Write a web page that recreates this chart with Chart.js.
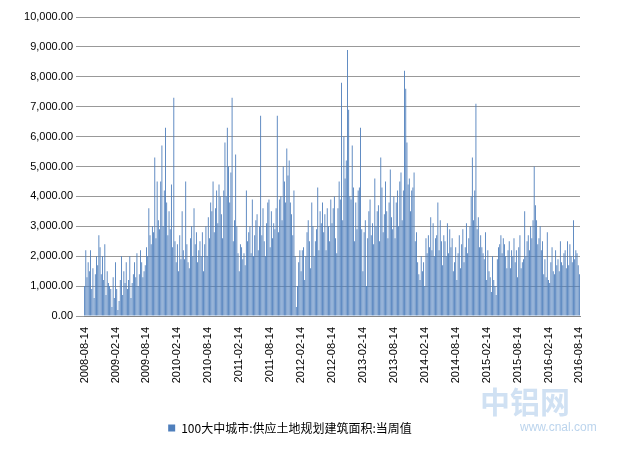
<!DOCTYPE html>
<html><head><meta charset="utf-8">
<script src="https://cdn.jsdelivr.net/npm/chart.js@4"></script>
<style>body{margin:0;background:#fff}#w{position:relative;width:619px;height:456px}
#wm{position:absolute;left:480px;top:378px;font:bold 30px "Noto Sans CJK SC";color:rgba(120,170,220,0.35)}
#wm2{position:absolute;left:520px;top:420px;font:12px Arial;color:rgba(120,170,220,0.5)}</style>
</head><body><div id="w"><canvas id="c" width="619" height="456"></canvas><div id="wm">中铝网</div><div id="wm2">www.cnal.com</div></div>
<script>
const tickLabels=["2008-08-14","2009-02-14","2009-08-14","2010-02-14","2010-08-14","2011-02-14","2011-08-14","2012-02-14","2012-08-14","2013-02-14","2013-08-14","2014-02-14","2014-08-14","2015-02-14","2015-08-14","2016-02-14","2016-08-14"];
const seriesName="100大中城市:供应土地规划建筑面积:当周值";
const values=[
1000,2200,1300,1800,1500,2200,900,1600,600,1400,2000,1700,2700,2300,1400,2000,1200,2400,700,1500,1100,1000,900,300,1300,600,
1800,900,200,500,1200,2000,700,1500,1100,1800,900,1200,2000,600,1100,1400,1800,1300,2100,1000,1400,2200,1800,1300,1500,1700,
2300,2000,3600,2700,2400,3000,2800,5300,2600,4500,3200,2900,4500,5700,3000,4200,6300,3800,2700,3500,2900,4400,2300,7300,2500,1800,
2400,1500,2700,1900,3500,2200,1900,4500,2400,1800,1600,2600,3000,2000,3600,2400,2800,1800,2200,2500,2000,2800,1500,2400,3000,2000,
3300,2600,3800,3500,4500,2800,3600,4200,3100,4400,4000,3400,2600,4200,5800,4000,6300,5000,3800,4800,7300,2500,3200,5400,3000,2100,
1500,2400,2300,1900,2100,1700,4200,2500,2800,3000,2100,3900,2000,2700,3200,3400,2200,3000,6700,2700,3600,2500,2000,3100,3800,3900,
2300,3500,2600,3100,2900,3600,6700,2800,3900,4000,3200,5000,4500,3800,5600,4700,5200,3800,3400,2700,4200,2000,300,1000,1800,2200,
1500,2200,2300,1200,2000,2800,3200,2500,1600,3800,3000,2000,2500,2900,4300,2200,3500,3100,3800,2800,3400,2200,3600,3000,2500,3900,
3100,3600,4000,2600,2100,3600,4500,3900,7800,3200,6000,4600,5200,8900,6900,4000,3900,5700,4300,2500,3800,2900,4200,4300,6300,2900,
1500,2800,3200,1000,2600,3500,3900,2700,3100,2400,4600,3000,3500,3700,2500,5300,4300,2800,3400,4500,3500,2600,3800,4900,3300,2900,
4000,2600,3800,4200,3000,4500,4800,3200,4200,8200,7600,5800,4400,4600,3500,4200,4300,4800,2500,2800,1800,1400,1200,2000,1500,1800,
1000,2600,2100,2700,2300,3300,2200,3100,2000,2600,2700,3800,2200,3200,2500,1700,2700,2500,2000,3100,2100,2900,2300,2600,1500,1800,
2300,1200,2100,2700,1600,2400,2900,1800,2300,3100,2100,2600,3000,4000,5300,3200,4200,7100,2900,3300,2300,2700,2300,2100,1900,2800,
1200,2200,1500,1300,800,2000,1200,1000,700,1900,2300,2400,2700,2100,2600,2400,2000,1600,2200,2500,1600,2200,2000,2600,1800,2200,
1300,2300,2700,1600,1800,1900,3500,2000,2500,2700,2200,3000,2600,3200,5000,3700,3200,2400,2600,3000,2200,2500,1400,1900,1300,2800,
1200,1100,1800,2300,1500,1400,2200,1700,1900,1500,2500,1800,1700,2100,2200,1600,2500,1700,2400,2000,1800,3200,1900,2200,2100,1700,1400
];
const labels=values.map((v,i)=>i);
new Chart(document.getElementById('c'),{type:'bar',
data:{labels:labels,datasets:[{label:seriesName,data:values,backgroundColor:'#4f7fbc',barPercentage:0.75,categoryPercentage:1}]},
options:{responsive:false,animation:false,
layout:{padding:{left:0,right:39,top:17,bottom:12}},
plugins:{legend:{position:'bottom',labels:{boxWidth:7,boxHeight:7,font:{size:12,family:'"Noto Sans CJK SC"'},color:'#000',padding:6}},tooltip:{enabled:false}},
scales:{
x:{grid:{display:false},border:{color:'#888'},afterFit:s=>{s.height=100},ticks:{autoSkip:false,maxRotation:90,minRotation:90,color:'#000',font:{size:11,family:'Arial'},
callback:(v,i)=>i%26===0&&tickLabels[i/26]?tickLabels[i/26]:null}},
y:{min:0,max:10000,afterFit:s=>{s.width=84},ticks:{stepSize:1000,color:'#000',font:{size:11,family:'Arial'},callback:v=>v.toLocaleString('en-US',{minimumFractionDigits:2,maximumFractionDigits:2})},
grid:{color:'#999'},border:{display:false}}
}}});
</script></body></html>
